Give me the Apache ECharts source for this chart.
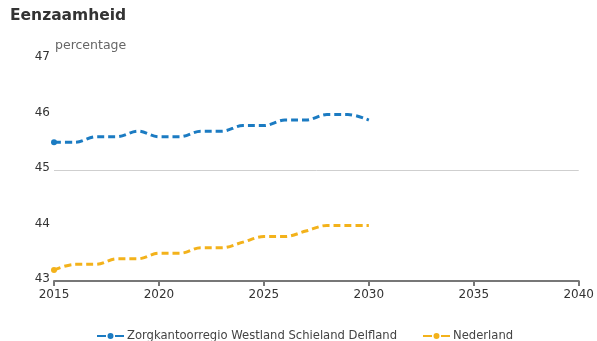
<!DOCTYPE html>
<html>
<head>
<meta charset="utf-8">
<script src="https://cdn.jsdelivr.net/npm/echarts@6/dist/echarts.min.js"></script>
<style>
  html, body { margin: 0; padding: 0; background: #fff; }
  #chart { width: 597px; height: 341px; }
</style>
</head>
<body>
<div id="chart"></div>
<script>
// Loneliness projections (percentage), per year
const years = [2015, 2016, 2017, 2018, 2019, 2020, 2021, 2022, 2023, 2024, 2025, 2026, 2027, 2028, 2029, 2030];
const regionName = 'Zorgkantoorregio Westland Schieland Delfland';
const regionValues = [45.5, 45.5, 45.6, 45.6, 45.7, 45.6, 45.6, 45.7, 45.7, 45.8, 45.8, 45.9, 45.9, 46.0, 46.0, 45.9];
const nlName = 'Nederland';
const nlValues = [43.2, 43.3, 43.3, 43.4, 43.4, 43.5, 43.5, 43.6, 43.6, 43.7, 43.8, 43.8, 43.9, 44.0, 44.0, 44.0];
const xTicks = [2015, 2020, 2025, 2030, 2035, 2040];
const yTicks = [43, 44, 45, 46, 47];

const FONT = 'DejaVu Sans, Verdana, sans-serif';
const pairs = vals => years.map((y, i) => [y, vals[i]]);
// only the first point of each line carries a marker
const firstOnly = (v, p) => (p.dataIndex === 0 ? 6 : 0);

const chart = echarts.init(document.getElementById('chart'), null, { renderer: 'canvas' });

function lineSeries(name, vals, color, extra) {
  return Object.assign({
    name: name,
    type: 'line',
    data: pairs(vals),
    smooth: 0.35,
    symbol: 'circle',
    symbolSize: firstOnly,
    showAllSymbol: true,
    itemStyle: { color: color },
    lineStyle: { color: color, width: 3, type: [7, 4] },
    emphasis: { disabled: true },
    z: 3
  }, extra || {});
}

chart.setOption({
  animation: false,
  backgroundColor: '#fff',
  title: [
    { text: 'Eenzaamheid', left: 10, top: 8, padding: 0,
      textStyle: { fontFamily: FONT, fontSize: 15.5, fontWeight: 'bold', color: '#333' } },
    { text: 'percentage', left: 55, top: 39, padding: 0,
      textStyle: { fontFamily: FONT, fontSize: 12.5, fontWeight: 'normal', color: '#666' } }
  ],
  grid: { left: 54, right: 18, top: 59, bottom: 60 },
  legend: {
    top: 330, left: 97, padding: 0, itemGap: 26, itemWidth: 27, itemHeight: 6,
    icon: 'path://M0,2H9V4H0Z M18,2H27V4H18Z M10.5,3A3,3 0 1,0 16.5,3A3,3 0 1,0 10.5,3Z',
    textStyle: { fontFamily: FONT, fontSize: 11.6, color: '#444', padding: [0, 0, 0, -2] },
    data: [regionName, nlName]
  },
  xAxis: {
    type: 'value', min: 2015, max: 2040, interval: 5,
    axisLine: { show: true, lineStyle: { color: '#777', width: 2 } },
    axisTick: { show: true, length: 5, lineStyle: { color: '#777', width: 2 } },
    axisLabel: { fontFamily: FONT, fontSize: 12, color: '#333', margin: 8,
      formatter: v => (xTicks.includes(v) ? String(v) : '') },
    splitLine: { show: false }
  },
  yAxis: {
    type: 'value', min: 43, max: 47, interval: 1,
    axisLine: { show: false },
    axisTick: { show: false },
    axisLabel: { fontFamily: FONT, fontSize: 12, color: '#333', margin: 4,
      verticalAlign: 'bottom', lineHeight: 4,
      formatter: v => (yTicks.includes(v) ? String(v) : '') },
    splitLine: { show: false }
  },
  series: [
    lineSeries(regionName, regionValues, '#1b7bc2', {
      markLine: {
        silent: true, symbol: 'none', label: { show: false },
        lineStyle: { color: '#cfcfcf', width: 1, type: 'solid' },
        data: [{ yAxis: 45 }],
        z: 1
      }
    }),
    lineSeries(nlName, nlValues, '#f3b21b')
  ]
});
</script>
</body>
</html>
